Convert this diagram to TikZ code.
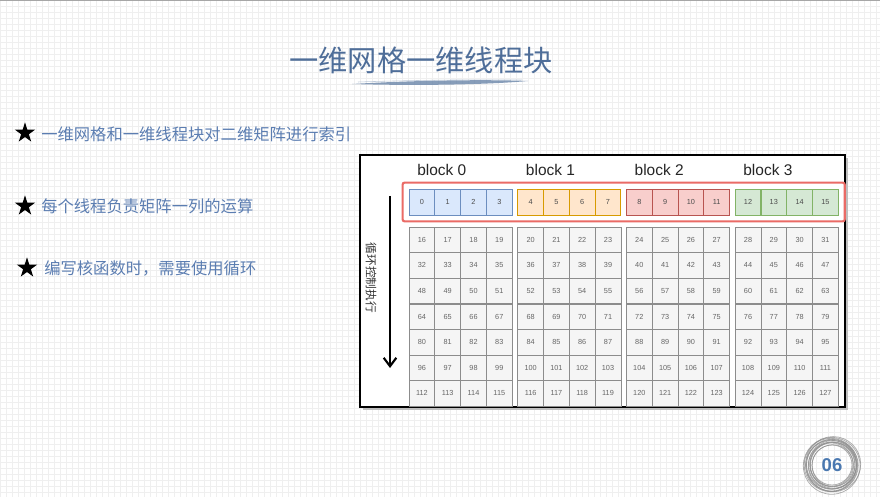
\documentclass[tikz,border=0pt]{standalone}
\usepackage{fontspec}
\setmainfont{Liberation Sans}
\newfontfamily\cjk{Noto Sans CJK SC}
\usepackage{tikz}
\usetikzlibrary{shapes.geometric,fit,arrows.meta}
\definecolor{titleblue}{HTML}{4F6E99}
\definecolor{textblue}{HTML}{5B7DB1}
\definecolor{bggray}{HTML}{EFEFEF}
\definecolor{blkfill0}{HTML}{DAE8FC}
\definecolor{blkline0}{HTML}{6C8EBF}
\definecolor{blkfill1}{HTML}{FFE6CC}
\definecolor{blkline1}{HTML}{D79B00}
\definecolor{blkfill2}{HTML}{F8CECC}
\definecolor{blkline2}{HTML}{B85450}
\definecolor{blkfill3}{HTML}{D5E8D4}
\definecolor{blkline3}{HTML}{82B366}
\definecolor{cellfill}{HTML}{F5F5F5}
\definecolor{cellline}{HTML}{8C8C8C}
\definecolor{selred}{HTML}{EA6B66}
\definecolor{pageblue}{HTML}{4A78B0}
\tikzstyle{starmark} = [star,star points=5,star point ratio=2.6,fill=black,inner sep=0,minimum size=15pt]
\tikzstyle{pointtext} = [anchor=west,inner sep=0,text=textblue,font=\cjk\fontsize{11.6}{14}\selectfont]
\tikzstyle{thread} = [draw,line width=0.6pt,minimum width=18.3pt,minimum height=18.4pt,inner sep=0,text=black!70,font=\fontsize{5.2}{6}\selectfont]
\tikzstyle{gridcell} = [draw=cellline,fill=cellfill,line width=0.5pt,minimum width=18.3pt,minimum height=18.1pt,inner sep=0,text=black!60,font=\fontsize{5.2}{6}\selectfont]
\tikzstyle{blocklabel} = [anchor=west,inner sep=0,text=black!85,font=\fontsize{11}{13}\selectfont]
\tikzstyle{looparrow} = [line width=1.5pt,-{Straight Barb[length=6pt,width=9pt,line width=1.5pt]}]

\begin{document}
\begin{tikzpicture}[x=0.025cm,y=-0.025cm]
            \useasboundingbox (0,0) rectangle (880,497);
            % background
            \foreach \gx in {0,6,...,880} \draw[bggray,line width=0.5pt] (\gx,0) -- (\gx,497);
            \foreach \gy in {0,6,...,497} \draw[bggray,line width=0.5pt] (0,\gy) -- (880,\gy);
            \draw[black!35,line width=1pt] (0,0.5) -- (880,0.5);
            % title
            \node[text=titleblue,font=\cjk\fontsize{20.8}{24}\selectfont] (title) at (421,60) {一维网格一维线程块};
            \fill[titleblue!85,opacity=0.8] (352,84) .. controls (420,80) and (490,79.5) .. (528,81) .. controls (490,84.5) and (420,86) .. (352,84) -- cycle;
            \draw[titleblue!60,line width=0.4pt,opacity=0.6] (358,82) .. controls (420,80) and (480,79.5) .. (522,80);
            % points
            \node[starmark] (star1) at (25,133) {};
            \node[pointtext] (pt1) at (41,134) {一维网格和一维线程块对二维矩阵进行索引};
            \node[starmark] (star2) at (25,206) {};
            \node[pointtext] (pt2) at (41,206) {每个线程负责矩阵一列的运算};
            \node[starmark] (star3) at (27,268) {};
            \node[pointtext] (pt3) at (44,268) {编写核函数时，需要使用循环};
            % frame
            \fill[black!25] (363,158) rectangle (848,410);
            \draw[line width=2.1pt,fill=white] (360,155) rectangle (845,407);
            % blocks and threads
            \foreach \b in {0,1,2,3} {
                \node[blocklabel] (blk\b) at ({417+108.7*\b},170) {block \b};
                \foreach \j in {0,1,2,3} {
                    \pgfmathtruncatemacro\n{4*\b+\j}
                    \node[thread,draw=blkline\b,fill=blkfill\b] (t\n) at ({409+108.7*\b+25.8*(\j+0.5)},202) {\n};
                    \foreach \r in {1,...,7} {
                        \pgfmathtruncatemacro\m{16*\r+4*\b+\j}
                        \node[gridcell] (c\m) at ({409+108.7*\b+25.8*(\j+0.5)},{227+25.6*(\r-0.5)}) {\m};
                    }
                }
            }
            \node[draw=selred,line width=1.5pt,rounded corners=1.5pt,inner sep=4.3pt,fit=(t0)(t15)] (sel) {};
            % loop
            \coordinate (loopTop) at (390,196);
            \coordinate (loopEnd) at (390,368);
            \draw[looparrow] (loopTop) -- (loopEnd);
            \node[rotate=-90,inner sep=0,text=black!80,font=\cjk\fontsize{8.3}{10}\selectfont] (looptext) at (371,278) {循环控制执行};
            % page number
            \foreach \rr/\dx/\dy in {14.2/0/0, 14.8/0.6/-0.4, 15.4/-0.5/0.3, 16/0.4/0.5, 16.6/-0.3/-0.4, 17.2/0.5/0.2, 17.8/-0.4/0.5, 18.4/0.2/-0.3, 19/-0.8/0, 19.6/0.8/0.6, 20.2/-0.2/-0.6, 16.3/0.9/-0.2, 18.1/-0.7/-0.5} \draw[black!45,line width=0.55pt,opacity=0.7] ([shift={(\dx pt,\dy pt)}]832,465) circle[radius=\rr pt];
            \node[text=pageblue,font=\bfseries\fontsize{13.2}{15}\selectfont] (page) at (832,465) {06};
        \end{tikzpicture}
\end{document}
